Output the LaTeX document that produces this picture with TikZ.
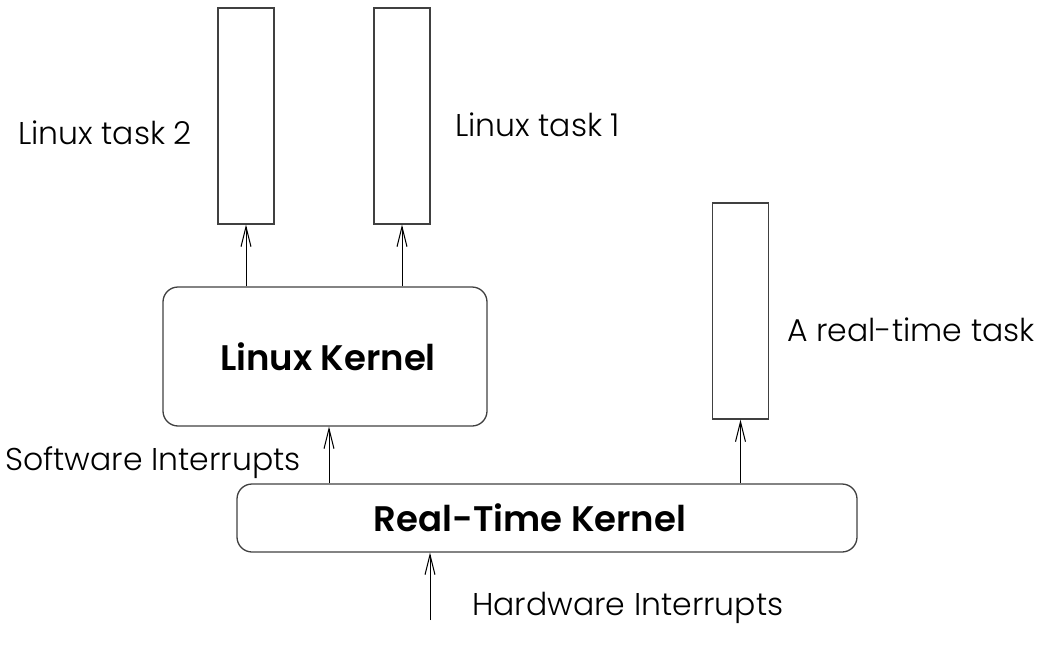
\documentclass[tikz,border=0pt]{standalone}
\usepackage{fontspec}
\setmainfont{Poppins}[UprightFont={Poppins Light},BoldFont={Poppins SemiBold}]
\usetikzlibrary{arrows.meta}
\begin{document}
\begin{tikzpicture}[x=1pt,y=-1pt,
  task/.style={draw=black!75,line width=1.3pt,minimum width=56pt,minimum height=216pt,inner sep=0pt},
  kern/.style={draw=black!75,line width=1.3pt,rounded corners=15pt,inner sep=0pt,font=\fontsize{35.5}{42}\selectfont\bfseries},
  lbl/.style={inner sep=0pt,font=\fontsize{31.5}{38}\selectfont},
  conn/.style={draw=black,line width=1pt,-{Straight Barb[length=20pt,width=10pt,line width=1pt]}}]
\useasboundingbox (0,0) rectangle (1045,645);
\node[task] (t2) at (246,116) {};
\node[task] (t1) at (402,116) {};
\node[task] (rt) at (740.5,311) {};
\node[kern,minimum width=324pt,minimum height=139pt] (lk) at (325,356.5) {\hspace*{6pt}Linux Kernel};
\node[kern,minimum width=620pt,minimum height=68pt] (rk) at (547,518) {\hspace*{-34pt}Real-Time Kernel};
\coordinate (hw) at (430,620);
\node[lbl,anchor=west] (l2) at (18,133) {Linux task 2};
\node[lbl,anchor=west] (l1) at (455,125) {Linux task 1};
\node[lbl,anchor=west] (lr) at (787,330) {A real-time task};
\node[lbl,anchor=west] (ls) at (5,463) {Software Interrupts};
\node[lbl,anchor=west] (lh) at (472,608) {Hardware Interrupts};
\draw[conn] (lk.north -| t2.south) -- (t2.south);
\draw[conn] (lk.north -| t1.south) -- (t1.south);
\draw[conn] (rk.north -| 329,0) -- (lk.south -| 329,0);
\draw[conn] (rk.north -| rt.south) -- (rt.south);
\draw[conn] (hw) -- (hw |- rk.south);
\end{tikzpicture}
\end{document}
